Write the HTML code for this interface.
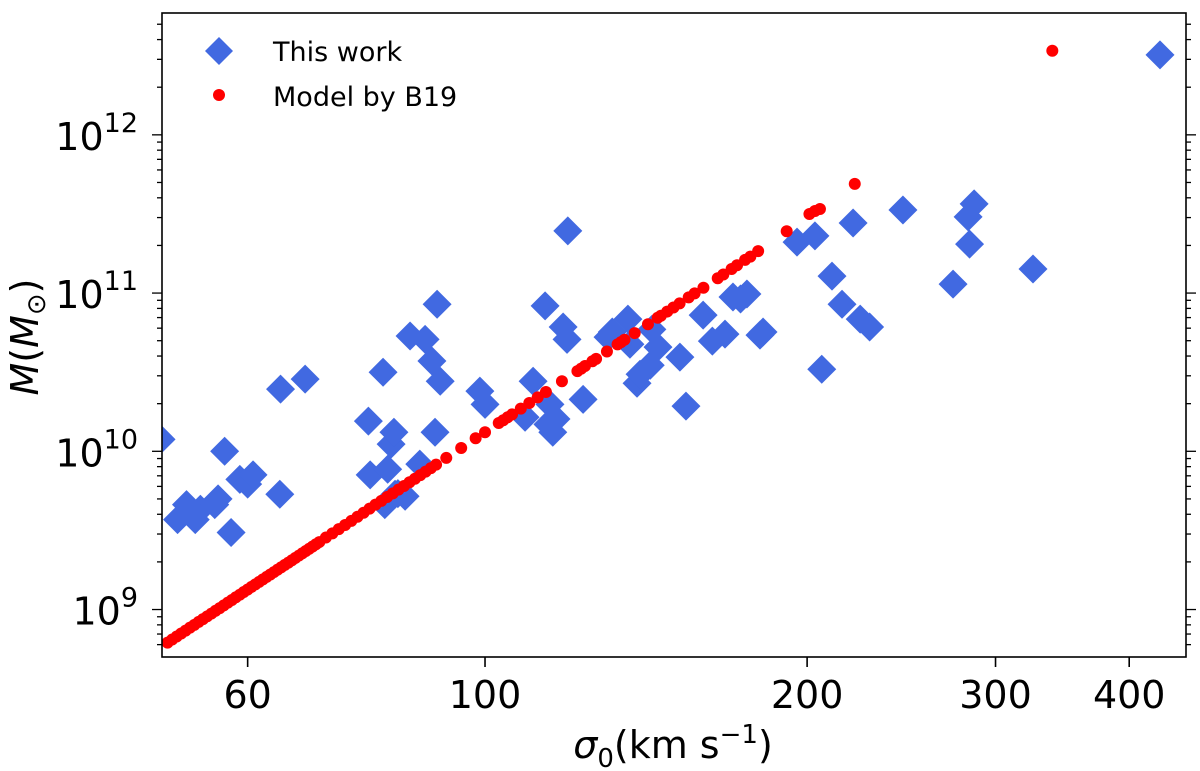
<!DOCTYPE html>
<html><head><meta charset="utf-8"><style>
html,body{margin:0;padding:0;background:#fff;}
svg{display:block;font-family:"DejaVu Sans","Liberation Sans",sans-serif;}
</style></head><body>
<svg id="chart" width="1200" height="771" viewBox="0 0 1200 771" xmlns="http://www.w3.org/2000/svg">
<g id="marks"></g>
<g id="axes"></g>
<rect x="162" y="13" width="1024" height="644" fill="none" stroke="#000" stroke-width="1.6"/>
<g>
<polygon points="219,37 233,51 219,65 205,51" fill="#4169E1"/>
<text x="273" y="61" font-size="27">This work</text>
<circle cx="219" cy="95" r="6" fill="#f00"/>
<text x="273" y="106" font-size="27">Model by B19</text>
</g>
<text x="673" y="758" font-size="38" text-anchor="middle"><tspan font-style="italic">σ</tspan><tspan font-size="26" dy="9">0</tspan><tspan dy="-9">(km s</tspan><tspan font-size="26" dy="-15">−1</tspan><tspan dy="15">)</tspan></text>
<text transform="translate(38,337) rotate(-90)" font-size="38" text-anchor="middle"><tspan font-style="italic">M</tspan>(<tspan font-style="italic">M</tspan><tspan font-size="26" dy="7">⊙</tspan><tspan dy="-7">)</tspan></text>
</svg>
<script>
const blueSigma=[49.8,51.6,52.6,53.6,54.2,55.9,56.3,57.9,57.1,59.0,60.0,60.7,64.3,64.4,67.9,77.8,78.1,80.3,80.6,81.1,81.7,82.2,82.4,82.9,84.2,85.1,86.9,87.9,89.2,89.8,90.2,90.8,98.9,100,109.0,110.9,113.8,114.5,115.0,115.7,116.5,118.3,119.3,119.5,123.5,130.3,131.5,136.0,136.6,138.7,139.6,142.7,143.2,145.1,152.1,154.1,159.9,163.1,167.6,170.5,173.3,175.7,180.7,181.9,195.7,203.4,206.4,211.0,215.6,220.8,224.2,228.8,245.8,273.8,282.8,283.7,286.5,325.2,427.4];
const blueMass=[1.19e10,3.7e9,4.6e9,3.7e9,4.3e9,4.6e9,5.0e9,3.07e9,1.0e10,6.65e9,6.2e9,7.1e9,5.35e9,2.47e10,2.86e10,1.55e10,7.1e9,3.16e10,4.6e9,7.7e9,1.11e10,1.32e10,5.35e9,5.4e9,5.2e9,5.35e10,8.3e9,5.1e10,3.72e10,1.32e10,8.5e10,2.77e10,2.4e10,1.98e10,1.64e10,2.77e10,8.3e10,1.48e10,1.98e10,1.32e10,1.6e10,6.1e10,5.1e10,2.47e11,2.13e10,5.27e10,5.67e10,6.84e10,4.75e10,2.69e10,3.07e10,3.5e10,5.9e10,4.55e10,3.94e10,1.93e10,7.26e10,4.97e10,5.5e10,9.44e10,9.17e10,9.86e10,5.42e10,5.67e10,2.1e11,2.3e11,3.3e10,1.28e11,8.5e10,2.77e11,6.84e10,6.1e10,3.35e11,1.14e11,3.03e11,2.04e11,3.66e11,1.42e11,3.2e12];
const redSigma=[50.5,51,51.5,52,52.5,53,53.5,54,54.5,55,55.5,56,56.5,57,57.5,58,58.5,59,59.5,60,60.5,61,61.5,62,62.5,63,63.5,64,64.5,65,65.5,66,66.5,67,67.5,68,68.5,69,69.5,70,71,72,73,74,75,76,77,78,79,80,81,82,83,84,85,86,87,88,89,90,92,95,98,100,103,104,105,106,108,110,112,114,118,122,123,124,126,127,130,133,134,135,138,142,145,146,148,150,152,155,157,160,165,167,170,172,175,177,180,191.4,201,203.4,205.6,221.6,339];
const redMass=[6.18e8,6.46e8,6.75e8,7.05e8,7.36e8,7.68e8,8.0e8,8.35e8,8.7e8,9.06e8,9.43e8,9.82e8,1.02e9,1.063e9,1.105e9,1.149e9,1.195e9,1.241e9,1.29e9,1.338e9,1.39e9,1.441e9,1.495e9,1.55e9,1.607e9,1.665e9,1.725e9,1.787e9,1.85e9,1.915e9,1.98e9,2.05e9,2.12e9,2.193e9,2.27e9,2.344e9,2.42e9,2.503e9,2.585e9,2.669e9,2.85e9,3.03e9,3.22e9,3.42e9,3.63e9,3.86e9,4.09e9,4.34e9,4.6e9,4.86e9,5.14e9,5.42e9,5.72e9,6.04e9,6.37e9,6.71e9,7.07e9,7.44e9,7.83e9,8.23e9,9.08e9,1.05e10,1.21e10,1.32e10,1.51e10,1.57e10,1.64e10,1.71e10,1.86e10,2.02e10,2.19e10,2.37e10,2.77e10,3.21e10,3.33e10,3.46e10,3.71e10,3.84e10,4.27e10,4.74e10,4.9e10,5.07e10,5.58e10,6.35e10,6.98e10,7.19e10,7.64e10,8.11e10,8.6e10,9.4e10,9.95e10,1.08e11,1.24e11,1.31e11,1.42e11,1.5e11,1.62e11,1.7e11,1.84e11,2.46e11,3.16e11,3.3e11,3.4e11,4.9e11,3.4e12];
const xTicks=[60,100,200,300,400];
const yTicks=[9,10,11,12];

const NS='http://www.w3.org/2000/svg';
const X0=162,X1=1186,Y0=657,Y1=13;
const xLogMin=Math.log10(49.9),xLogMax=Math.log10(452);
const yLogMin=8.70,yLogMax=12.77;
function xs(v){return X0+(Math.log10(v)-xLogMin)/(xLogMax-xLogMin)*(X1-X0);}
function ys(v){return Y0-(Math.log10(v)-yLogMin)/(yLogMax-yLogMin)*(Y0-Y1);}
const marks=document.getElementById('marks');
const axes=document.getElementById('axes');
function mk(tag,attrs,parent){const e=document.createElementNS(NS,tag);for(const k in attrs)e.setAttribute(k,attrs[k]);parent.appendChild(e);return e;}
const clip=mk('clipPath',{id:'pc'},marks);
mk('rect',{x:X0,y:Y1,width:X1-X0,height:Y0-Y1},clip);
const g=mk('g',{'clip-path':'url(#pc)'},marks);
for(let i=0;i<blueSigma.length;i++){
  const cx=xs(blueSigma[i]),cy=ys(blueMass[i]);
  const p=mk('polygon',{points:`${cx},${cy-14.5} ${cx+14.5},${cy} ${cx},${cy+14.5} ${cx-14.5},${cy}`,fill:'#4169E1'},g);
  
  
}
for(let i=0;i<redSigma.length;i++){
  const c=mk('circle',{cx:xs(redSigma[i]),cy:ys(redMass[i]),r:6,fill:'#f00'},g);
  
  
}
xTicks.forEach(t=>{
  const x=xs(t);
  const l=mk('line',{x1:x,x2:x,y1:Y0,y2:Y0+10,stroke:'#000','stroke-width':1.6},axes);
  
  
  const tx=mk('text',{x:x,y:Y0+51,'font-size':38,'text-anchor':'middle'},axes);
  tx.textContent=t;
  
  
});
for(let d=8;d<=12;d++){
  for(let m=1;m<=9;m++){
    const v=m*Math.pow(10,d);
    const lv=Math.log10(v);
    if(lv<yLogMin||lv>yLogMax)continue;
    const y=ys(v);
    const len=m===1?10:5;
    mk('line',{x1:X0-len,x2:X0,y1:y,y2:y,stroke:'#000','stroke-width':1.3},axes);
    mk('line',{x1:X1,x2:X1+len,y1:y,y2:y,stroke:'#000','stroke-width':1.3},axes);
  }
}
yTicks.forEach(t=>{
  const y=ys(Math.pow(10,t));
  const tx=mk('text',{x:X0-24,y:y+15,'font-size':38,'text-anchor':'end'},axes);
  
  
  const a=document.createElementNS(NS,'tspan');a.textContent='10';tx.appendChild(a);
  const b=document.createElementNS(NS,'tspan');b.setAttribute('dy','-18');b.setAttribute('font-size','27');b.textContent=t;tx.appendChild(b);
});
</script>
</body></html>
